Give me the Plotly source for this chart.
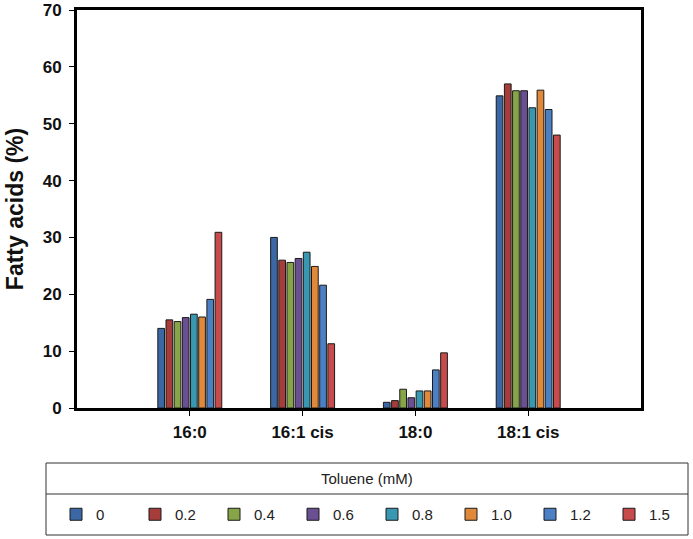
import plotly.graph_objects as go

categories = ["16:0", "16:1 cis", "18:0", "18:1 cis"]
toluene_levels = ["0", "0.2", "0.4", "0.6", "0.8", "1.0", "1.2", "1.5"]
values = {
    "0":   [14.0, 30.0, 1.0, 54.9],
    "0.2": [15.5, 26.0, 1.3, 57.0],
    "0.4": [15.2, 25.6, 3.3, 55.8],
    "0.6": [15.9, 26.3, 1.8, 55.8],
    "0.8": [16.5, 27.4, 3.0, 52.8],
    "1.0": [16.0, 24.9, 3.0, 55.9],
    "1.2": [19.1, 21.6, 6.7, 52.5],
    "1.5": [30.9, 11.3, 9.7, 48.0],
}
colors = ["#3B68A5", "#A63D3B", "#87A548", "#6B4F93", "#3898B2", "#E0893A", "#4C80C4", "#C64B4A"]
y_ticks = [0, 10, 20, 30, 40, 50, 60, 70]

fig = go.Figure()
for lvl, col in zip(toluene_levels, colors):
    fig.add_trace(go.Bar(
        x=categories, y=values[lvl], name=lvl,
        marker=dict(color=col, line=dict(color="#1a1a1a", width=1)),
    ))

L, R, T, B = 77, 52, 10, 131
W, H = 693, 539
pw, ph = W - L - R, H - T - B

def px(x):
    return (x - L) / pw

def py(y):
    return (H - B - y) / ph

font_bold = "Liberation Sans, Arial, sans-serif"

fig.update_layout(
    width=W, height=H,
    margin=dict(l=L, r=R, t=T, b=B, autoexpand=False),
    paper_bgcolor="white", plot_bgcolor="white",
    barmode="group", bargap=0.42, bargroupgap=0.18,
    font=dict(family=font_bold, color="#111111"),
    showlegend=True,
    legend=dict(
        orientation="h", x=px(56), xanchor="left", y=py(514.5), yanchor="middle",
        font=dict(size=15, family="Liberation Sans, Arial", color="#222222"),
        entrywidth=34, entrywidthmode="pixels",
        bgcolor="rgba(0,0,0,0)", traceorder="normal",
    ),
    xaxis=dict(
        type="category", range=[-1, 4], showgrid=False, automargin=False,
        showline=True, linecolor="black", linewidth=3, mirror=True,
        ticks="outside", ticklen=5, tickwidth=1, tickcolor="black",
        tickfont=dict(size=17, family=font_bold, weight="bold", color="#111111"),
        ticklabelstandoff=2,
    ),
    yaxis=dict(
        range=[0, 70], tickvals=y_ticks, showgrid=False, zeroline=False, automargin=False,
        showline=True, linecolor="black", linewidth=3, mirror=True,
        ticks="outside", ticklen=5, tickwidth=1, tickcolor="black",
        tickfont=dict(size=17, family=font_bold, weight="bold", color="#111111"),
        ticklabelstandoff=4,
        title=dict(text="Fatty acids (%)", standoff=13,
                   font=dict(size=23, family=font_bold, weight="bold", color="#111111")),
    ),
    shapes=[
        dict(type="rect", xref="paper", yref="paper", x0=px(46), x1=px(688), y0=py(463), y1=py(535),
             line=dict(color="#333333", width=1), fillcolor="rgba(0,0,0,0)"),
        dict(type="line", xref="paper", yref="paper", x0=px(46), x1=px(688), y0=py(494), y1=py(494),
             line=dict(color="#333333", width=1)),
    ],
    annotations=[
        dict(text="Toluene (mM)", xref="paper", yref="paper", x=px(367), y=py(478),
             showarrow=False, xanchor="center", yanchor="middle",
             font=dict(size=15, family="Liberation Sans, Arial", color="#222222")),
    ],
)

fig.write_html(
    "out.html",
    config={"displayModeBar": False},
    post_script="document.body.style.margin='0px';document.body.style.overflow='hidden';",
)
